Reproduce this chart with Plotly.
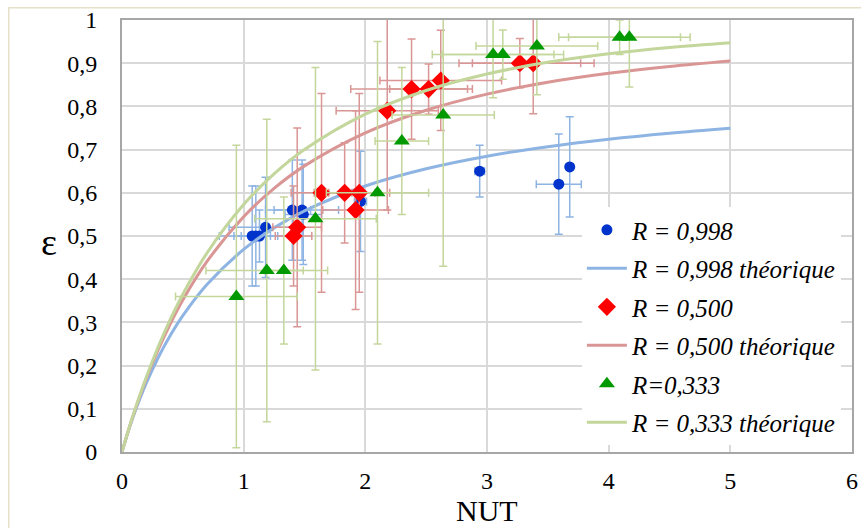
import plotly.graph_objects as go

# ---- data ----
blue_x = [1.07, 1.10, 1.13, 1.18, 1.40, 1.48, 1.49, 1.96, 2.94, 3.59, 3.68]
blue_y = [0.50, 0.50, 0.50, 0.52, 0.56, 0.56, 0.55, 0.58, 0.65, 0.62, 0.66]
blue_ex = [0.15, 0.30, 0.15, 0.30, 0.15, 0.30, 0.15, 0.05, 0.04, 0.185, 0.02]
blue_ey = [0.116, 0.116, 0.06, 0.116, 0.116, 0.116, 0.116, 0.116, 0.06, 0.116, 0.116]

red_x = [1.41, 1.44, 1.64, 1.83, 1.92, 1.95, 2.18, 2.38, 2.52, 2.62, 3.27, 3.38]
red_y = [0.50, 0.52, 0.60, 0.60, 0.56, 0.60, 0.79, 0.84, 0.84, 0.86, 0.90, 0.90]
red_ex = [0.15, 0.20, 0.25, 0.25, 0.27, 0.25, 0.42, 0.50, 0.32, 0.50, 0.50, 0.50]
red_ey = [0.116, 0.23, 0.23, 0.116, 0.23, 0.23, 0.23, 0.116, 0.058, 0.116, 0.057, 0.117]

green_x = [0.94, 1.19, 1.33, 1.59, 2.10, 2.30, 2.64, 3.05, 3.13, 3.41, 4.09, 4.17]
green_y = [0.36, 0.42, 0.42, 0.54, 0.60, 0.72, 0.78, 0.92, 0.92, 0.94, 0.96, 0.96]
green_ex = [0.50, 0.50, 0.16, 0.50, 0.42, 0.22, 0.42, 0.50, 0.50, 0.50, 0.50, 0.50]
green_ey = [0.35, 0.35, 0.17, 0.35, 0.35, 0.17, 0.35, 0.10, 0.057, 0.113, 0.04, 0.115]

# theoretical curves
nut_th = [0, 0.05, 0.1, 0.2, 0.3, 0.4, 0.5, 0.7, 1.0, 1.25, 1.5, 2.0, 2.5, 3.0, 3.5, 4.0, 4.5, 5.0]
eps_998 = [0, 0.0465, 0.0881, 0.1597, 0.2200, 0.2712, 0.3156, 0.3882, 0.4689, 0.5188, 0.5582,
           0.6158, 0.6557, 0.6848, 0.7068, 0.7241, 0.7380, 0.7496]
eps_500 = [0, 0.0476, 0.0915, 0.1701, 0.2385, 0.2987, 0.3520, 0.4417, 0.5447, 0.6102, 0.6623,
           0.7387, 0.7911, 0.8284, 0.8558, 0.8766, 0.8926, 0.9053]
eps_333 = [0, 0.0481, 0.0928, 0.1737, 0.2452, 0.3085, 0.3653, 0.4613, 0.5728, 0.6437, 0.7001,
           0.7820, 0.8369, 0.8750, 0.9020, 0.9217, 0.9365, 0.9476]

x_ticks = [0, 1, 2, 3, 4, 5, 6]
y_ticks = [0, 0.1, 0.2, 0.3, 0.4, 0.5, 0.6, 0.7, 0.8, 0.9, 1.0]
y_ticktext = ["0", "0,1", "0,2", "0,3", "0,4", "0,5", "0,6", "0,7", "0,8", "0,9", "1"]

names = ["R = 0,998", "R = 0,998 théorique", "R = 0,500", "R = 0,500 théorique",
         "R=0,333", "R = 0,333 théorique"]

# ---- styles ----
SERIF = "'Liberation Serif', 'Times New Roman', serif"
c_blue_m, c_blue_l = "#0033CC", "#8EB4E3"
c_red_m, c_red_l = "#FF0000", "#D99694"
c_grn_m, c_grn_l = "#009900", "#C3D69B"

W, H = 861, 528
ML, MR, MT, MB = 122, 9, 20, 76
PW = W - ML - MR
PH = H - MT - MB


def err(vals, color):
    return dict(type="data", array=vals, visible=True, color=color, thickness=1.5, width=4)


fig = go.Figure()

fig.add_trace(go.Scatter(x=blue_x, y=blue_y, mode="markers", name=names[0], legendgroup="a",
                         marker=dict(symbol="circle", size=11, color=c_blue_m),
                         error_x=err(blue_ex, c_blue_l), error_y=err(blue_ey, c_blue_l)))
fig.add_trace(go.Scatter(x=nut_th, y=eps_998, mode="lines", name=names[1], legendgroup="b",
                         line=dict(color=c_blue_l, width=3, shape="spline")))
fig.add_trace(go.Scatter(x=red_x, y=red_y, mode="markers", name=names[2], legendgroup="c",
                         marker=dict(symbol="diamond", size=14, color=c_red_m),
                         error_x=err(red_ex, c_red_l), error_y=err(red_ey, c_red_l)))
fig.add_trace(go.Scatter(x=nut_th, y=eps_500, mode="lines", name=names[3], legendgroup="d",
                         line=dict(color=c_red_l, width=3, shape="spline")))
fig.add_trace(go.Scatter(x=green_x, y=green_y, mode="markers", name=names[4], legendgroup="e",
                         marker=dict(symbol="triangle-up", size=14, color=c_grn_m),
                         error_x=err(green_ex, c_grn_l), error_y=err(green_ey, c_grn_l)))
fig.add_trace(go.Scatter(x=nut_th, y=eps_333, mode="lines", name=names[5], legendgroup="f",
                         line=dict(color=c_grn_l, width=3, shape="spline")))

fig.update_layout(
    width=W, height=H,
    margin=dict(l=ML, r=MR, t=MT, b=MB, autoexpand=False),
    paper_bgcolor="white", plot_bgcolor="white",
    font=dict(family=SERIF, size=24, color="black"),
    showlegend=True,
    legend=dict(x=0.63, y=0.567, xanchor="left", yanchor="top",
                bgcolor="white", borderwidth=0, tracegroupgap=3,
                font=dict(family=SERIF, size=25, color="black", style="italic"),
                itemwidth=40),
    xaxis=dict(range=[0, 6], tickvals=x_ticks, ticktext=[str(v) for v in x_ticks],
               showgrid=True, gridcolor="#D9D9D9", gridwidth=1.5,
               showline=True, linecolor="#A6A6A6", linewidth=2, mirror=True,
               zeroline=False, ticks="", ticklabelstandoff=6, automargin=False,
               ticklabeloverflow="allow",
               tickfont=dict(family=SERIF, size=24)),
    yaxis=dict(range=[0, 1], tickvals=y_ticks, ticktext=y_ticktext,
               showgrid=True, gridcolor="#D9D9D9", gridwidth=1.5,
               showline=True, linecolor="#A6A6A6", linewidth=2, mirror=True,
               zeroline=False, ticks="", ticklabelstandoff=18, automargin=False,
               ticklabeloverflow="allow",
               tickfont=dict(family=SERIF, size=24)),
    annotations=[
        dict(text="NUT", xref="paper", yref="paper", x=0.5, y=-58 / PH, xanchor="center",
             yanchor="middle", showarrow=False, font=dict(family=SERIF, size=30)),
        dict(text="ε", xref="paper", yref="paper", x=-73 / PW, y=0.485, xanchor="center",
             yanchor="middle", showarrow=False, font=dict(family=SERIF, size=38)),
    ],
    shapes=[
        dict(type="rect", xref="paper", yref="paper",
             x0=(8.75 - ML) / PW, x1=(W + 20 - ML) / PW,
             y0=(-MB - 20) / PH, y1=(PH + MT - 7.75) / PH,
             line=dict(color="#E6E0C8", width=1.5), fillcolor="rgba(0,0,0,0)", layer="below"),
    ],
)

fig.write_html("out.html", config={"displayModeBar": False},
               post_script="document.body.style.margin='0px';")
